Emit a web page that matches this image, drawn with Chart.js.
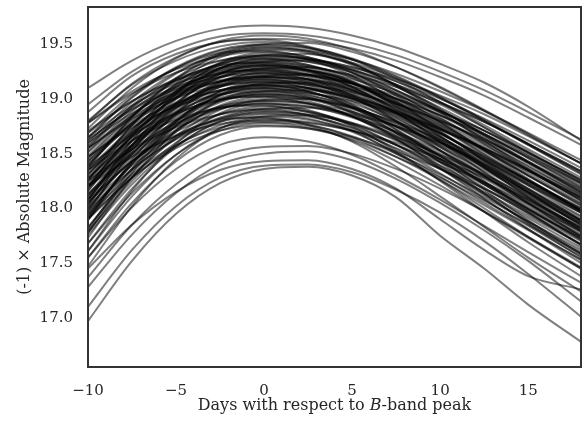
<!DOCTYPE html>
<html>
<head>
<meta charset="utf-8">
<script src="https://cdn.jsdelivr.net/npm/chart.js@4.4.1/dist/chart.umd.min.js"></script>
<style>
  html, body { margin: 0; padding: 0; background: #ffffff; }
  #wrap { width: 583px; height: 425px; }
</style>
</head>
<body>
<div id="wrap"><canvas id="c" width="583" height="425"></canvas></div>
<script>
// Phase grid (days relative to B-band maximum) at which every light curve is sampled
const days = [-10, -7.5, -5, -2.5, 0, 2.5, 5, 7.5, 10, 12.5, 15, 18];

// Tick positions
const xTicks = [-10, -5, 0, 5, 10, 15];
const yTicks = [17.0, 17.5, 18.0, 18.5, 19.0, 19.5];

// (-1) x absolute B magnitude of each supernova at the phases above
const lc01 = [19.10, 19.35, 19.53, 19.64, 19.67, 19.65, 19.58, 19.47, 19.32, 19.15, 18.93, 18.62];
const lc02 = [18.95, 19.25, 19.45, 19.57, 19.60, 19.58, 19.51, 19.40, 19.25, 19.08, 18.88, 18.63];
const lc03 = [18.73, 19.10, 19.37, 19.53, 19.58, 19.55, 19.45, 19.29, 19.10, 18.89, 18.67, 18.41];
const lc04 = [18.88, 19.21, 19.41, 19.52, 19.55, 19.53, 19.46, 19.35, 19.20, 19.03, 18.83, 18.58];
const lc05 = [18.80, 19.13, 19.35, 19.48, 19.52, 19.47, 19.33, 19.12, 18.88, 18.62, 18.36, 18.07];
const lc06 = [18.65, 19.02, 19.29, 19.45, 19.50, 19.47, 19.37, 19.21, 19.02, 18.81, 18.59, 18.33];
const lc07 = [18.38, 18.84, 19.19, 19.41, 19.48, 19.44, 19.32, 19.13, 18.91, 18.67, 18.43, 18.15];
const lc08 = [18.26, 18.76, 19.14, 19.38, 19.46, 19.44, 19.36, 19.23, 19.07, 18.89, 18.69, 18.44];
const lc09 = [18.60, 18.97, 19.24, 19.40, 19.45, 19.42, 19.32, 19.16, 18.97, 18.76, 18.54, 18.28];
const lc10 = [18.78, 19.07, 19.27, 19.39, 19.43, 19.38, 19.24, 19.03, 18.79, 18.53, 18.27, 17.98];
const lc11 = [18.07, 18.62, 19.05, 19.33, 19.42, 19.36, 19.21, 18.98, 18.71, 18.43, 18.15, 17.84];
const lc12 = [18.30, 18.76, 19.11, 19.33, 19.40, 19.36, 19.24, 19.05, 18.83, 18.59, 18.35, 18.07];
const lc13 = [18.78, 19.05, 19.24, 19.35, 19.38, 19.36, 19.29, 19.18, 19.03, 18.86, 18.66, 18.41];
const lc14 = [18.52, 18.89, 19.16, 19.32, 19.37, 19.34, 19.24, 19.08, 18.89, 18.68, 18.46, 18.20];
const lc15 = [18.16, 18.66, 19.04, 19.28, 19.36, 19.34, 19.26, 19.13, 18.97, 18.79, 18.59, 18.34];
const lc16 = [18.25, 18.71, 19.06, 19.28, 19.35, 19.31, 19.19, 19.00, 18.78, 18.54, 18.30, 18.02];
const lc17 = [18.69, 18.98, 19.18, 19.30, 19.34, 19.29, 19.15, 18.94, 18.70, 18.44, 18.18, 17.89];
const lc18 = [18.48, 18.85, 19.12, 19.28, 19.33, 19.30, 19.20, 19.04, 18.85, 18.64, 18.42, 18.16];
const lc19 = [17.97, 18.52, 18.95, 19.23, 19.32, 19.26, 19.11, 18.88, 18.61, 18.33, 18.05, 17.74];
const lc20 = [18.71, 18.98, 19.17, 19.28, 19.31, 19.29, 19.22, 19.11, 18.96, 18.79, 18.59, 18.34];
const lc21 = [18.20, 18.66, 19.01, 19.23, 19.30, 19.26, 19.14, 18.95, 18.73, 18.49, 18.25, 17.97];
const lc22 = [18.44, 18.81, 19.08, 19.24, 19.29, 19.26, 19.16, 19.00, 18.81, 18.60, 18.38, 18.12];
const lc23 = [18.08, 18.58, 18.96, 19.20, 19.28, 19.26, 19.18, 19.05, 18.89, 18.71, 18.51, 18.26];
const lc24 = [18.62, 18.91, 19.11, 19.23, 19.27, 19.22, 19.08, 18.87, 18.63, 18.37, 18.11, 17.82];
const lc25 = [18.16, 18.62, 18.97, 19.19, 19.26, 19.22, 19.10, 18.91, 18.69, 18.45, 18.21, 17.93];
const lc26 = [18.40, 18.77, 19.04, 19.20, 19.25, 19.22, 19.12, 18.96, 18.77, 18.56, 18.34, 18.08];
const lc27 = [17.89, 18.44, 18.87, 19.15, 19.24, 19.18, 19.03, 18.80, 18.53, 18.25, 17.97, 17.66];
const lc28 = [18.63, 18.90, 19.09, 19.20, 19.23, 19.21, 19.14, 19.03, 18.88, 18.71, 18.51, 18.26];
const lc29 = [18.12, 18.58, 18.93, 19.15, 19.22, 19.18, 19.06, 18.87, 18.65, 18.41, 18.17, 17.89];
const lc30 = [18.36, 18.73, 19.00, 19.16, 19.21, 19.18, 19.08, 18.92, 18.73, 18.52, 18.30, 18.04];
const lc31 = [18.55, 18.84, 19.04, 19.16, 19.20, 19.15, 19.01, 18.80, 18.56, 18.30, 18.04, 17.75];
const lc32 = [17.99, 18.49, 18.87, 19.11, 19.19, 19.17, 19.09, 18.96, 18.80, 18.62, 18.42, 18.17];
const lc33 = [18.08, 18.54, 18.89, 19.11, 19.18, 19.14, 19.02, 18.83, 18.61, 18.37, 18.13, 17.85];
const lc34 = [18.32, 18.69, 18.96, 19.12, 19.17, 19.14, 19.04, 18.88, 18.69, 18.48, 18.26, 18.00];
const lc35 = [17.81, 18.36, 18.79, 19.07, 19.16, 19.10, 18.95, 18.72, 18.45, 18.17, 17.89, 17.58];
const lc36 = [18.55, 18.82, 19.01, 19.12, 19.15, 19.13, 19.06, 18.95, 18.80, 18.63, 18.43, 18.18];
const lc37 = [18.04, 18.50, 18.85, 19.07, 19.14, 19.10, 18.98, 18.79, 18.57, 18.33, 18.09, 17.81];
const lc38 = [18.28, 18.65, 18.92, 19.08, 19.13, 19.10, 19.00, 18.84, 18.65, 18.44, 18.22, 17.96];
const lc39 = [18.47, 18.76, 18.96, 19.08, 19.12, 19.07, 18.93, 18.72, 18.48, 18.22, 17.96, 17.67];
const lc40 = [17.91, 18.41, 18.79, 19.03, 19.11, 19.09, 19.01, 18.88, 18.72, 18.54, 18.34, 18.09];
const lc41 = [18.00, 18.46, 18.81, 19.03, 19.10, 19.06, 18.94, 18.75, 18.53, 18.29, 18.05, 17.77];
const lc42 = [18.24, 18.61, 18.88, 19.04, 19.09, 19.06, 18.96, 18.80, 18.61, 18.40, 18.18, 17.92];
const lc43 = [17.73, 18.28, 18.71, 18.99, 19.08, 19.02, 18.87, 18.64, 18.37, 18.09, 17.81, 17.50];
const lc44 = [18.47, 18.74, 18.93, 19.04, 19.07, 19.05, 18.98, 18.87, 18.72, 18.55, 18.35, 18.10];
const lc45 = [17.95, 18.41, 18.76, 18.98, 19.05, 19.01, 18.89, 18.70, 18.48, 18.24, 18.00, 17.72];
const lc46 = [18.19, 18.56, 18.83, 18.99, 19.04, 19.01, 18.91, 18.75, 18.56, 18.35, 18.13, 17.87];
const lc47 = [18.38, 18.67, 18.87, 18.99, 19.03, 18.98, 18.84, 18.63, 18.39, 18.13, 17.87, 17.58];
const lc48 = [17.82, 18.32, 18.70, 18.94, 19.02, 19.00, 18.92, 18.79, 18.63, 18.45, 18.25, 18.00];
const lc49 = [17.90, 18.36, 18.71, 18.93, 19.00, 18.96, 18.84, 18.65, 18.43, 18.19, 17.95, 17.67];
const lc50 = [18.13, 18.50, 18.77, 18.93, 18.98, 18.95, 18.85, 18.69, 18.50, 18.29, 18.07, 17.81];
const lc51 = [17.61, 18.16, 18.59, 18.87, 18.96, 18.90, 18.75, 18.52, 18.25, 17.97, 17.69, 17.38];
const lc52 = [18.35, 18.62, 18.81, 18.92, 18.95, 18.93, 18.86, 18.75, 18.60, 18.43, 18.23, 17.98];
const lc53 = [17.83, 18.29, 18.64, 18.86, 18.93, 18.89, 18.77, 18.58, 18.36, 18.12, 17.88, 17.60];
const lc54 = [18.06, 18.43, 18.70, 18.86, 18.91, 18.88, 18.78, 18.62, 18.43, 18.22, 18.00, 17.74];
const lc55 = [18.25, 18.54, 18.74, 18.86, 18.90, 18.85, 18.71, 18.50, 18.26, 18.00, 17.74, 17.45];
const lc56 = [17.68, 18.18, 18.56, 18.80, 18.88, 18.86, 18.78, 18.65, 18.49, 18.31, 18.11, 17.86];
const lc57 = [17.76, 18.22, 18.57, 18.79, 18.86, 18.82, 18.70, 18.51, 18.29, 18.05, 17.81, 17.53];
const lc58 = [17.99, 18.36, 18.63, 18.79, 18.84, 18.81, 18.71, 18.55, 18.36, 18.15, 17.93, 17.67];
const lc59 = [17.47, 18.02, 18.45, 18.73, 18.82, 18.76, 18.61, 18.38, 18.11, 17.83, 17.55, 17.24];
const lc60 = [18.20, 18.47, 18.66, 18.77, 18.80, 18.78, 18.71, 18.60, 18.45, 18.28, 18.08, 17.83];
const lc61 = [17.68, 18.14, 18.49, 18.71, 18.78, 18.74, 18.62, 18.43, 18.21, 17.97, 17.73, 17.45];
const lc62 = [17.91, 18.28, 18.55, 18.71, 18.76, 18.73, 18.63, 18.47, 18.28, 18.07, 17.85, 17.59];
const lc63 = [17.55, 18.05, 18.43, 18.67, 18.75, 18.73, 18.65, 18.52, 18.36, 18.18, 17.98, 17.73];
const lc64 = [17.55, 18.01, 18.36, 18.58, 18.65, 18.61, 18.49, 18.30, 18.08, 17.84, 17.60, 17.32];
const lc65 = [17.37, 17.85, 18.22, 18.47, 18.56, 18.57, 18.50, 18.36, 18.18, 17.97, 17.74, 17.46];
const lc66 = [17.28, 17.76, 18.14, 18.40, 18.50, 18.52, 18.44, 18.27, 18.05, 17.80, 17.52, 17.15];
const lc67 = [17.45, 17.85, 18.15, 18.35, 18.43, 18.44, 18.36, 18.18, 17.90, 17.62, 17.38, 17.26];
const lc68 = [17.10, 17.62, 18.02, 18.28, 18.39, 18.40, 18.33, 18.17, 17.96, 17.70, 17.40, 17.01];
const lc69 = [16.97, 17.52, 17.95, 18.23, 18.36, 18.38, 18.30, 18.10, 17.75, 17.45, 17.12, 16.78];
const lc70 = [18.79, 19.14, 19.38, 19.52, 19.54, 19.48, 19.36, 19.18, 18.97, 18.74, 18.51, 18.24];
const lc71 = [18.56, 18.94, 19.23, 19.42, 19.50, 19.51, 19.43, 19.29, 19.11, 18.90, 18.68, 18.41];
const lc72 = [18.64, 19.01, 19.28, 19.44, 19.49, 19.46, 19.36, 19.20, 19.01, 18.80, 18.58, 18.32];
const lc73 = [18.37, 18.83, 19.18, 19.40, 19.47, 19.43, 19.31, 19.12, 18.90, 18.66, 18.42, 18.14];
const lc74 = [18.69, 19.04, 19.28, 19.42, 19.44, 19.38, 19.26, 19.08, 18.87, 18.64, 18.41, 18.14];
const lc75 = [18.46, 18.84, 19.13, 19.32, 19.40, 19.41, 19.33, 19.19, 19.01, 18.80, 18.58, 18.31];
const lc76 = [18.19, 18.69, 19.07, 19.31, 19.39, 19.37, 19.29, 19.16, 19.00, 18.82, 18.62, 18.37];
const lc77 = [18.02, 18.57, 19.00, 19.28, 19.37, 19.31, 19.16, 18.93, 18.66, 18.38, 18.10, 17.79];
const lc78 = [18.40, 18.78, 19.07, 19.26, 19.34, 19.35, 19.27, 19.13, 18.95, 18.74, 18.52, 18.25];
const lc79 = [18.58, 18.93, 19.17, 19.31, 19.33, 19.27, 19.15, 18.97, 18.76, 18.53, 18.30, 18.03];
const lc80 = [18.21, 18.67, 19.02, 19.24, 19.31, 19.27, 19.15, 18.96, 18.74, 18.50, 18.26, 17.98];
const lc81 = [18.34, 18.72, 19.01, 19.20, 19.28, 19.29, 19.21, 19.07, 18.89, 18.68, 18.46, 18.19];
const lc82 = [18.42, 18.79, 19.06, 19.22, 19.27, 19.24, 19.14, 18.98, 18.79, 18.58, 18.36, 18.10];
const lc83 = [18.51, 18.86, 19.10, 19.24, 19.26, 19.20, 19.08, 18.90, 18.69, 18.46, 18.23, 17.96];
const lc84 = [18.04, 18.54, 18.92, 19.16, 19.24, 19.22, 19.14, 19.01, 18.85, 18.67, 18.47, 18.22];
const lc85 = [18.27, 18.65, 18.94, 19.13, 19.21, 19.22, 19.14, 19.00, 18.82, 18.61, 18.39, 18.12];
const lc86 = [18.10, 18.56, 18.91, 19.13, 19.20, 19.16, 19.04, 18.85, 18.63, 18.39, 18.15, 17.87];
const lc87 = [18.43, 18.78, 19.02, 19.16, 19.18, 19.12, 19.00, 18.82, 18.61, 18.38, 18.15, 17.88];
const lc88 = [18.31, 18.68, 18.95, 19.11, 19.16, 19.13, 19.03, 18.87, 18.68, 18.47, 18.25, 17.99];
const lc89 = [18.20, 18.58, 18.87, 19.06, 19.14, 19.15, 19.07, 18.93, 18.75, 18.54, 18.32, 18.05];
const lc90 = [17.78, 18.33, 18.76, 19.04, 19.13, 19.07, 18.92, 18.69, 18.42, 18.14, 17.86, 17.55];
const lc91 = [17.92, 18.42, 18.80, 19.04, 19.12, 19.10, 19.02, 18.89, 18.73, 18.55, 18.35, 18.10];
const lc92 = [18.35, 18.70, 18.94, 19.08, 19.10, 19.04, 18.92, 18.74, 18.53, 18.30, 18.07, 17.80];
const lc93 = [18.13, 18.51, 18.80, 18.99, 19.07, 19.08, 19.00, 18.86, 18.68, 18.47, 18.25, 17.98];
const lc94 = [18.21, 18.58, 18.85, 19.01, 19.06, 19.03, 18.93, 18.77, 18.58, 18.37, 18.15, 17.89];
const lc95 = [17.94, 18.40, 18.75, 18.97, 19.04, 19.00, 18.88, 18.69, 18.47, 18.23, 17.99, 17.71];
const lc96 = [18.27, 18.62, 18.86, 19.00, 19.02, 18.96, 18.84, 18.66, 18.45, 18.22, 17.99, 17.72];
const lc97 = [18.05, 18.43, 18.72, 18.91, 18.99, 19.00, 18.92, 18.78, 18.60, 18.39, 18.17, 17.90];
const lc98 = [17.78, 18.28, 18.66, 18.90, 18.98, 18.96, 18.88, 18.75, 18.59, 18.41, 18.21, 17.96];
const lc99 = [18.11, 18.48, 18.75, 18.91, 18.96, 18.93, 18.83, 18.67, 18.48, 18.27, 18.05, 17.79];
const lc100 = [18.19, 18.54, 18.78, 18.92, 18.94, 18.88, 18.76, 18.58, 18.37, 18.14, 17.91, 17.64];
const lc101 = [17.97, 18.35, 18.64, 18.83, 18.91, 18.92, 18.84, 18.70, 18.52, 18.31, 18.09, 17.82];
const lc102 = [17.79, 18.25, 18.60, 18.82, 18.89, 18.85, 18.73, 18.54, 18.32, 18.08, 17.84, 17.56];
const lc103 = [18.02, 18.39, 18.66, 18.82, 18.87, 18.84, 18.74, 18.58, 18.39, 18.18, 17.96, 17.70];
const lc104 = [17.90, 18.28, 18.57, 18.76, 18.84, 18.85, 18.77, 18.63, 18.45, 18.24, 18.02, 17.75];
const lc105 = [18.08, 18.43, 18.67, 18.81, 18.83, 18.77, 18.65, 18.47, 18.26, 18.03, 17.80, 17.53];
const lc106 = [17.61, 18.11, 18.49, 18.73, 18.81, 18.79, 18.71, 18.58, 18.42, 18.24, 18.04, 17.79];
const lc107 = [17.94, 18.31, 18.58, 18.74, 18.79, 18.76, 18.66, 18.50, 18.31, 18.10, 17.88, 17.62];
const lc108 = [18.55, 18.92, 19.19, 19.35, 19.40, 19.37, 19.27, 19.11, 18.92, 18.71, 18.49, 18.23];
const lc109 = [18.65, 18.94, 19.14, 19.26, 19.30, 19.25, 19.11, 18.90, 18.66, 18.40, 18.14, 17.85];
const lc110 = [18.60, 18.87, 19.06, 19.17, 19.20, 19.18, 19.11, 19.00, 18.85, 18.68, 18.48, 18.23];

const lightCurves = [
  lc01, lc02, lc03, lc04, lc05, lc06, lc07, lc08, lc09, lc10,
  lc11, lc12, lc13, lc14, lc15, lc16, lc17, lc18, lc19, lc20,
  lc21, lc22, lc23, lc24, lc25, lc26, lc27, lc28, lc29, lc30,
  lc31, lc32, lc33, lc34, lc35, lc36, lc37, lc38, lc39, lc40,
  lc41, lc42, lc43, lc44, lc45, lc46, lc47, lc48, lc49, lc50,
  lc51, lc52, lc53, lc54, lc55, lc56, lc57, lc58, lc59, lc60,
  lc61, lc62, lc63, lc64, lc65, lc66, lc67, lc68, lc69, lc70,
  lc71, lc72, lc73, lc74, lc75, lc76, lc77, lc78, lc79, lc80,
  lc81, lc82, lc83, lc84, lc85, lc86, lc87, lc88, lc89, lc90,
  lc91, lc92, lc93, lc94, lc95, lc96, lc97, lc98, lc99, lc100,
  lc101, lc102, lc103, lc104, lc105, lc106, lc107, lc108, lc109, lc110
];

const FONT = '"DejaVu Serif", "Liberation Serif", serif';
const INK = '#262626';

const datasets = lightCurves.map((mags, i) => ({
  label: 'SN ' + (i + 1),
  data: days.map((d, j) => ({ x: d, y: mags[j] })),
  borderColor: 'rgba(0,0,0,0.5)',
  borderWidth: 2,
  pointRadius: 0,
  fill: false,
  cubicInterpolationMode: 'monotone'
}));

const fmt = v => (v < 0 ? '\u2212' + Math.abs(v) : String(v));

// Dark frame round the plotting area
const framePlugin = {
  id: 'frame',
  afterDatasetsDraw(chart) {
    const { ctx, chartArea: a } = chart;
    ctx.save();
    ctx.strokeStyle = '#333333';
    ctx.lineWidth = 2;
    ctx.strokeRect(a.left, a.top, a.right - a.left, a.bottom - a.top);
    ctx.restore();
  }
};

// x-axis title with an italic band letter
const xTitlePlugin = {
  id: 'xTitle',
  afterDraw(chart) {
    const { ctx, chartArea: a } = chart;
    const parts = [
      { t: 'Days with respect to ', f: '16px ' + FONT },
      { t: 'B', f: 'italic 16px ' + FONT },
      { t: '-band peak', f: '16px ' + FONT }
    ];
    ctx.save();
    ctx.fillStyle = INK;
    ctx.textBaseline = 'alphabetic';
    let w = 0;
    parts.forEach(p => { ctx.font = p.f; p.w = ctx.measureText(p.t).width; w += p.w; });
    let x = (a.left + a.right) / 2 - w / 2;
    const y = 410;
    parts.forEach(p => { ctx.font = p.f; ctx.fillText(p.t, x, y); x += p.w; });
    ctx.restore();
  }
};

new Chart(document.getElementById('c'), {
  type: 'line',
  data: { datasets },
  options: {
    responsive: false,
    animation: false,
    events: [],
    layout: { padding: { top: 7, right: 2, left: 0, bottom: 0 } },
    plugins: { legend: { display: false }, tooltip: { enabled: false } },
    scales: {
      x: {
        type: 'linear',
        min: -10,
        max: 18,
        grid: { display: false, drawTicks: false },
        border: { display: false },
        afterBuildTicks: s => { s.ticks = xTicks.map(v => ({ value: v })); },
        afterFit: s => { s.height = 58; s.paddingLeft = 0; s.paddingRight = 0; },
        ticks: {
          padding: 15,
          color: INK,
          font: { family: FONT, size: 15 },
          callback: v => fmt(v),
          maxRotation: 0
        }
      },
      y: {
        type: 'linear',
        min: 16.55,
        max: 19.84,
        grid: { display: false, drawTicks: false },
        border: { display: false },
        afterBuildTicks: s => { s.ticks = yTicks.map(v => ({ value: v })); },
        afterFit: s => { s.width = 88; s.paddingTop = 0; s.paddingBottom = 0; },
        ticks: {
          padding: 15,
          color: INK,
          font: { family: FONT, size: 15 },
          callback: v => v.toFixed(1)
        },
        title: {
          display: true,
          text: '(-1) \u00d7 Absolute Magnitude',
          color: INK,
          font: { family: FONT, size: 16 },
          padding: { top: 15, bottom: 0 }
        }
      }
    }
  },
  plugins: [framePlugin, xTitlePlugin]
});
</script>
</body>
</html>
